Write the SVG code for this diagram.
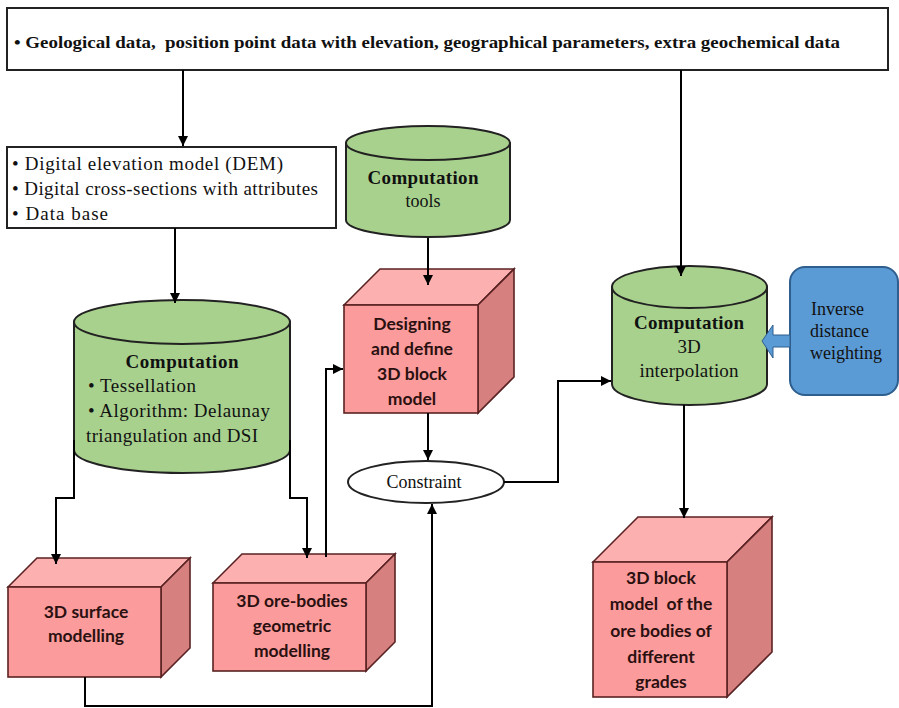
<svg xmlns="http://www.w3.org/2000/svg" width="899" height="708" viewBox="0 0 899 708">
<defs>
<marker id="ah" viewBox="0 0 10 10" refX="10" refY="5" markerWidth="10" markerHeight="10" markerUnits="userSpaceOnUse" orient="auto">
<path d="M0,0 L10,5 L0,10 Z" fill="#000"/>
</marker>
<style>
.box{fill:#fff;stroke:#222;stroke-width:2}
.cyl{fill:#a9d18e;stroke:#222;stroke-width:2}
.front{fill:#fb9b9b;stroke:#5a2222;stroke-width:1.6}
.top{fill:#fdb0b0;stroke:#5a2222;stroke-width:1.6}
.side{fill:#d68080;stroke:#5a2222;stroke-width:1.6}
.con{fill:none;stroke:#000;stroke-width:2}
.serif{font-family:"Liberation Serif","Times New Roman",serif;fill:#111}
.sans{font-family:Lato,"Open Sans",sans-serif;font-weight:bold;fill:#2a1010;font-size:17.5px;white-space:pre}
.b{font-weight:bold}
</style>
</defs>
<rect width="899" height="708" fill="#fff"/>

<g id="input">
<rect class="box" x="7" y="8" width="881" height="62"/>
<text class="serif b" x="14" y="48" font-size="16.5" textLength="826" lengthAdjust="spacingAndGlyphs" xml:space="preserve">• Geological data,  position point data with elevation, geographical parameters, extra geochemical data</text>
</g>

<g id="dem">
<rect class="box" x="7" y="147" width="329" height="81"/>
<text class="serif" font-size="19"><tspan x="12" y="170" textLength="271">• Digital elevation model (DEM)</tspan><tspan x="12" y="195" textLength="306">• Digital cross-sections with attributes</tspan><tspan x="12" y="220" textLength="96">• Data base</tspan></text>
</g>

<g id="computation-left">
<path class="cyl" d="M74,322 V450 A108,23 0 0 0 290,450 V322 Z"/>
<ellipse class="cyl" cx="182" cy="322" rx="108" ry="22"/>
<text class="serif b" x="182" y="368" font-size="19" text-anchor="middle" textLength="113">Computation</text>
<text class="serif" font-size="19"><tspan x="88" y="392" textLength="108">• Tessellation</tspan><tspan x="88" y="417" textLength="182">• Algorithm: Delaunay</tspan><tspan x="86" y="442" textLength="172">triangulation and DSI</tspan></text>
</g>

<g id="computation-tools">
<path class="cyl" d="M346,143 V220 A82,17 0 0 0 510,220 V143 Z"/>
<ellipse class="cyl" cx="428" cy="143" rx="82" ry="17"/>
<text class="serif b" x="423" y="184" font-size="19" text-anchor="middle" textLength="111">Computation</text>
<text class="serif" x="423" y="207" font-size="18" text-anchor="middle">tools</text>
</g>

<g id="designing">
<polygon class="top" points="344,305 380,269 514,269 478,305"/>
<polygon class="side" points="478,305 514,269 514,377 478,413"/>
<rect class="front" x="344" y="305" width="134" height="108"/>
<text class="sans" text-anchor="middle"><tspan x="412" y="330">Designing</tspan><tspan x="412" y="355">and define</tspan><tspan x="412" y="380">3D block</tspan><tspan x="412" y="405">model</tspan></text>
</g>

<g id="constraint">
<ellipse cx="426" cy="482" rx="78" ry="21" fill="#fff" stroke="#222" stroke-width="2"/>
<text class="serif" x="424" y="488" font-size="18" text-anchor="middle">Constraint</text>
</g>

<g id="computation-right">
<path class="cyl" d="M612,287 V384 A77.5,21 0 0 0 767,384 V287 Z"/>
<ellipse class="cyl" cx="689.5" cy="287" rx="77.5" ry="21"/>
<text class="serif b" x="689" y="329" font-size="19" text-anchor="middle" textLength="110">Computation</text>
<text class="serif" x="689" y="353" font-size="19" text-anchor="middle">3D</text>
<text class="serif" x="689" y="377" font-size="19" text-anchor="middle" textLength="99">interpolation</text>
</g>

<g id="idw">
<rect x="790" y="267" width="108" height="128" rx="15" fill="#5b9bd5" stroke="#2f5f8f" stroke-width="2"/>
<text class="serif" font-size="18"><tspan x="811" y="315">Inverse</tspan><tspan x="810" y="337">distance</tspan><tspan x="810" y="359">weighting</tspan></text>
</g>

<g id="surface">
<polygon class="top" points="8,587 37,558 190,558 161,587"/>
<polygon class="side" points="161,587 190,558 190,648 161,677"/>
<rect class="front" x="8" y="587" width="153" height="90"/>
<text class="sans" text-anchor="middle"><tspan x="86" y="618">3D surface</tspan><tspan x="86" y="642">modelling</tspan></text>
</g>

<g id="orebodies">
<polygon class="top" points="213,583 242,554 395,554 366,583"/>
<polygon class="side" points="366,583 395,554 395,642 366,671"/>
<rect class="front" x="213" y="583" width="153" height="88"/>
<text class="sans" text-anchor="middle"><tspan x="292" y="607">3D ore-bodies</tspan><tspan x="292" y="632">geometric</tspan><tspan x="292" y="657">modelling</tspan></text>
</g>

<g id="blockmodel">
<polygon class="top" points="593,562 638,517 772,517 727,562"/>
<polygon class="side" points="727,562 772,517 772,652 727,697"/>
<rect class="front" x="593" y="562" width="134" height="135"/>
<text class="sans" text-anchor="middle" xml:space="preserve"><tspan x="661" y="584">3D block</tspan><tspan x="661" y="610">model  of the</tspan><tspan x="661" y="637">ore bodies of</tspan><tspan x="661" y="663">different</tspan><tspan x="661" y="688">grades</tspan></text>
</g>

<g id="connectors">
<path class="con" d="M183,70 V146" marker-end="url(#ah)"/>
<path class="con" d="M681,70 V276" marker-end="url(#ah)"/>
<path class="con" d="M175,228 V303" marker-end="url(#ah)"/>
<path class="con" d="M428,238 V285" marker-end="url(#ah)"/>
<path class="con" d="M74,440 V498 H56 V564" marker-end="url(#ah)"/>
<path class="con" d="M290,440 V498 H307 V558" marker-end="url(#ah)"/>
<path class="con" d="M326,557 V369 H343" marker-end="url(#ah)"/>
<path class="con" d="M428,413 V460" marker-end="url(#ah)"/>
<path class="con" d="M85,677 V706 H432 V504" marker-end="url(#ah)"/>
<path class="con" d="M504,482 H558 V381 H611" marker-end="url(#ah)"/>
<path class="con" d="M684,405 V518" marker-end="url(#ah)"/>
<polygon points="790,335 773,335 773,325 762,341 773,358 773,347 790,347" fill="#5b9bd5" stroke="#2f5f8f" stroke-width="1"/>
</g>
</svg>
